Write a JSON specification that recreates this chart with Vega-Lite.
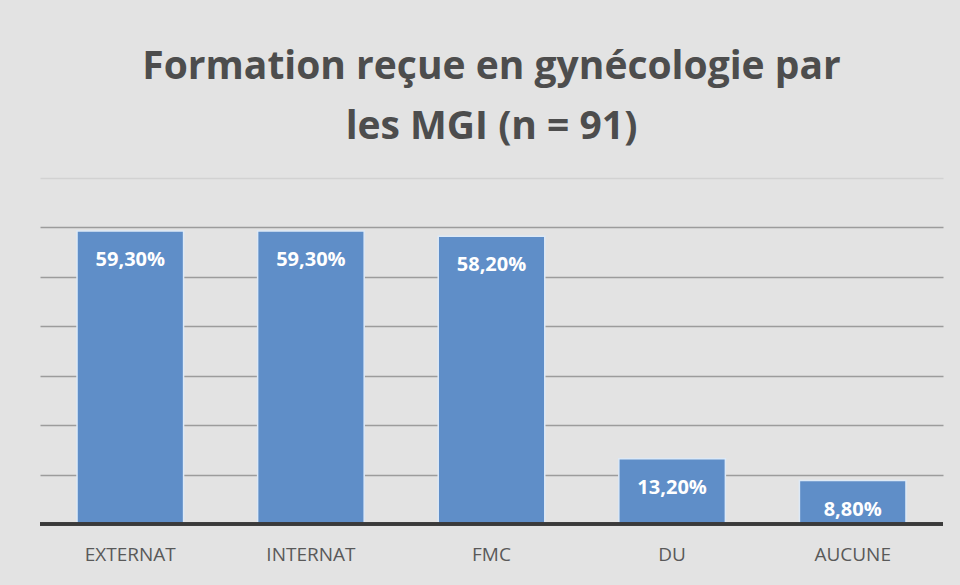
{
  "$schema": "https://vega.github.io/schema/vega-lite/v6.json",
  "width": 903,
  "height": 346,
  "autosize": {"type": "none"},
  "padding": {"left": 40, "top": 178, "right": 17, "bottom": 61},
  "background": "#e3e3e3",
  "title": {
    "text": ["Formation reçue en gynécologie par", "les MGI (n = 91)"],
    "font": "Open Sans",
    "fontSize": 39,
    "fontWeight": "bold",
    "color": "#4d4d4d",
    "lineHeight": 60,
    "anchor": "middle",
    "offset": 31
  },
  "data": {
    "values": [
      {"cat": "EXTERNAT", "value": 59.3, "label": "59,30%"},
      {"cat": "INTERNAT", "value": 59.3, "label": "59,30%"},
      {"cat": "FMC", "value": 58.2, "label": "58,20%"},
      {"cat": "DU", "value": 13.2, "label": "13,20%"},
      {"cat": "AUCUNE", "value": 8.8, "label": "8,80%"}
    ]
  },
  "config": {
    "view": {"stroke": null},
    "axis": {"labelFont": "Open Sans"}
  },
  "encoding": {
    "x": {
      "field": "cat",
      "type": "nominal",
      "sort": null,
      "scale": {"paddingInner": 0.41, "paddingOuter": 0.205},
      "axis": {
        "title": null,
        "labelAngle": 0,
        "labelFontSize": 19,
        "labelColor": "#595959",
        "labelPadding": 21,
        "ticks": false,
        "domain": false
      }
    },
    "y": {
      "field": "value",
      "type": "quantitative",
      "scale": {"domain": [0, 70]},
      "axis": {
        "title": null,
        "labels": false,
        "ticks": false,
        "domain": false,
        "values": [10, 20, 30, 40, 50, 60, 70],
        "gridColor": {"condition": {"test": "datum.value >= 70", "value": "#d2d2d2"}, "value": "#9c9c9c"},
        "gridWidth": 1.5
      }
    }
  },
  "layer": [
    {
      "mark": {"type": "bar", "fill": "#5f8ec8", "stroke": "#dde9f6", "strokeWidth": 1.5}
    },
    {
      "mark": {"type": "rule", "color": "#3a3a3a", "strokeWidth": 3},
      "encoding": {"y": {"datum": 0}, "x": {"value": 0}, "x2": {"value": 903}}
    },
    {
      "mark": {"type": "text", "color": "white", "font": "Open Sans", "fontWeight": "bold", "fontSize": 20, "baseline": "top", "dy": 19},
      "encoding": {"text": {"field": "label"}}
    }
  ]
}
